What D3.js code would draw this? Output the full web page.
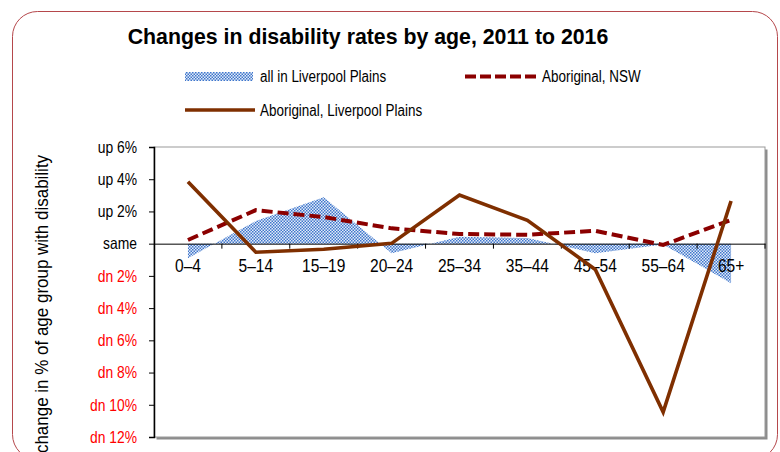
<!DOCTYPE html>
<html><head><meta charset="utf-8">
<script src="https://cdn.jsdelivr.net/npm/d3@7"></script>
<style>
html,body{margin:0;padding:0;background:#fff;}
svg{display:block;}
text{font-family:"Liberation Sans",Arial,sans-serif;}
</style></head>
<body>
<svg id="chart" width="780" height="452"></svg>
<script>
const categories = ["0–4","5–14","15–19","20–24","25–34","35–44","45–54","55–64","65+"];
const allLiverpool = [-0.9, 1.4, 2.88, -0.6, 0.43, 0.35, -0.6, -0.05, -2.45];
const aboriginalNSW = [0.23, 2.08, 1.65, 0.95, 0.6, 0.55, 0.8, -0.08, 1.47];
const aboriginalLP = [3.85, -0.53, -0.35, 0.02, 3.02, 1.45, -1.6, -10.45, 2.65];
const yTicks = [6,4,2,0,-2,-4,-6,-8,-10,-12];
const yTickLabels = ["up 6%","up 4%","up 2%","same","dn 2%","dn 4%","dn 6%","dn 8%","dn 10%","dn 12%"];

const svg = d3.select("#chart");
const L = 154, R = 765, T = 147, B = 437;

function condense(sel, f){
  sel.each(function(){
    const w = this.getComputedTextLength();
    d3.select(this).attr("textLength", w*f).attr("lengthAdjust","spacingAndGlyphs");
  });
}

// outer rounded border
svg.append("rect").attr("x",12.5).attr("y",11.5).attr("width",765).attr("height",448)
  .attr("rx",25).attr("fill","#fff").attr("stroke","#b5474b").attr("stroke-width",1);

// pattern
const defs = svg.append("defs");
const pat = defs.append("pattern").attr("id","dots").attr("patternUnits","userSpaceOnUse")
  .attr("width",3).attr("height",3);
pat.append("rect").attr("width",3).attr("height",3).attr("fill","#e4ecf8");
pat.append("rect").attr("x",0).attr("y",0).attr("width",1.5).attr("height",1.5).attr("fill","#3f76cc");
pat.append("rect").attr("x",1.5).attr("y",1.5).attr("width",1.5).attr("height",1.5).attr("fill","#3f76cc");

// title
svg.append("text").attr("x",368).attr("y",44).attr("text-anchor","middle")
  .attr("font-size",21.3).attr("font-weight","bold").attr("fill","#000")
  .text("Changes in disability rates by age, 2011 to 2016");

// plot frame with shadow
svg.append("rect").attr("x",L+2.5).attr("y",T+2.5).attr("width",R-L).attr("height",B-T)
  .attr("fill","#8c8c8c");
svg.append("rect").attr("x",L).attr("y",T).attr("width",R-L).attr("height",B-T)
  .attr("fill","#fff").attr("stroke","#999").attr("stroke-width",1);

const x = d3.scaleBand().domain(categories).range([L,R]).paddingInner(0).paddingOuter(0);
const cx = c => x(c) + x.bandwidth()/2;
const y = d3.scaleLinear().domain([-12,6]).range([B,T]);

// area
const area = d3.area().x((d,i)=>cx(categories[i])).y0(y(0)).y1(d=>y(d));
svg.append("path").datum(allLiverpool).attr("d",area).attr("fill","url(#dots)");

// y axis
const yAxis = d3.axisLeft(y).tickValues(yTicks).tickSize(5).tickFormat((d,i)=>yTickLabels[i]);
const ya = svg.append("g").attr("transform",`translate(${L},0)`).call(yAxis);
ya.select(".domain").attr("stroke","#000").attr("stroke-width",1.5);
ya.selectAll(".tick line").attr("stroke","#000");
ya.selectAll(".tick text").attr("font-size",16.5).attr("x",-17)
  .attr("font-family","'Liberation Sans',Arial,sans-serif")
  .attr("fill",d=>d<0?"#ff0000":"#000");
condense(ya.selectAll(".tick text"), 0.84);

// x axis at zero
const xAxis = d3.axisBottom(x).tickSize(0).tickPadding(15);
const xa = svg.append("g").attr("transform",`translate(0,${y(0)})`).call(xAxis);
xa.select(".domain").attr("stroke","#000").attr("stroke-width",1);
xa.selectAll(".tick text").attr("font-size",18.5)
  .attr("font-family","'Liberation Sans',Arial,sans-serif").attr("fill","#000");
condense(xa.selectAll(".tick text"), 0.84);
// boundary ticks
const bounds = categories.slice(1).map(c=>x(c)).concat([R]);
svg.append("g").selectAll("line").data(bounds).join("line")
  .attr("x1",d=>d).attr("x2",d=>d).attr("y1",y(0)).attr("y2",y(0)+5)
  .attr("stroke","#000").attr("stroke-width",1);

// lines
const line = d3.line().x((d,i)=>cx(categories[i])).y(d=>y(d));
svg.append("path").datum(aboriginalNSW).attr("d",line).attr("fill","none")
  .attr("stroke","#8b0000").attr("stroke-width",4).attr("stroke-dasharray","11,5");
svg.append("path").datum(aboriginalLP).attr("d",line).attr("fill","none")
  .attr("stroke","#7f2f00").attr("stroke-width",3.6);

// y axis title
const yt = svg.append("text").attr("transform","translate(48,304) rotate(-90)").attr("text-anchor","middle")
  .attr("font-size",17.5).attr("fill","#000")
  .text("change in % of age group with disability");
condense(yt, 0.97);

// legend
const lg = svg.append("g").attr("font-size",16).attr("fill","#000");
lg.append("rect").attr("x",185).attr("y",72).attr("width",68).attr("height",9).attr("fill","url(#dots)");
lg.append("text").attr("x",260).attr("y",82).text("all in Liverpool Plains");
lg.append("line").attr("x1",465).attr("x2",537).attr("y1",76.5).attr("y2",76.5)
  .attr("stroke","#8b0000").attr("stroke-width",4).attr("stroke-dasharray","11,4");
lg.append("text").attr("x",542).attr("y",82).text("Aboriginal, NSW");
lg.append("line").attr("x1",185).attr("x2",255).attr("y1",110).attr("y2",110)
  .attr("stroke","#7f2f00").attr("stroke-width",3.6);
lg.append("text").attr("x",260).attr("y",116).text("Aboriginal, Liverpool Plains");
condense(lg.selectAll("text"), 0.84);
</script>
</body></html>
